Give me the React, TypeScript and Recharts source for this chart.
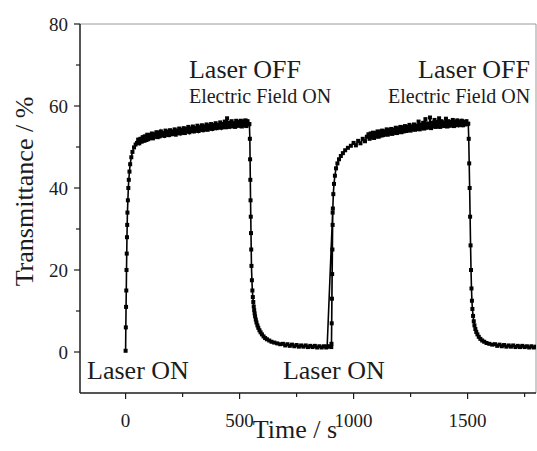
import React from 'react';
import { LineChart, Line, XAxis, YAxis, ReferenceLine, ReferenceDot, Label } from 'recharts';

// laser ON, first cycle (rise + plateau)
const onTime1 = [0, 1, 2, 3, 4, 5, 6, 7, 8, 10, 12, 14, 17, 20, 25, 30, 37, 44,
  50, 55, 60, 65, 70, 75, 80, 85, 90,
  95, 100, 105, 110, 115, 120, 125, 130, 135, 140,
  145, 150, 155, 160, 165, 170, 175, 180, 185, 190,
  195, 200, 205, 210, 215, 220, 225, 230, 235, 240,
  245, 250, 255, 260, 265, 270, 275, 280, 285, 290,
  295, 300, 305, 310, 315, 320, 325, 330, 335, 340,
  345, 350, 355, 360, 365, 370, 375, 380, 385, 390,
  395, 400, 405, 410, 415, 420, 425, 430, 435, 440,
  445, 450, 455, 460, 465, 470, 475, 480, 485, 490,
  495, 500, 505, 510, 515, 520, 525, 530, 535, 540, 543];
const onValue1 = [0.3, 6, 11, 15, 20, 24, 28, 31, 34, 37, 40, 42, 44, 45.8, 47.5, 48.8, 49.9, 50.6,
  51.0, 51.8, 50.9, 52.0, 51.3, 52.4, 51.5, 52.6, 51.7,
  53.0, 51.9, 52.9, 52.2, 53.3, 52.1, 53.1, 52.5, 53.6, 52.4,
  53.5, 52.6, 53.8, 52.9, 53.4, 52.7, 54.0, 53.0, 53.7, 52.9,
  54.1, 53.1, 53.8, 53.2, 54.3, 53.0, 54.0, 53.4, 54.5, 53.3,
  54.2, 53.5, 54.6, 53.4, 54.4, 53.8, 54.9, 53.6, 54.5, 53.9,
  55.0, 53.8, 54.6, 54.0, 55.2, 53.9, 54.8, 54.2, 55.3, 54.1,
  55.0, 54.3, 55.5, 54.2, 55.2, 54.5, 55.6, 54.4, 55.3, 54.6,
  55.8, 54.6, 55.4, 54.8, 56.0, 54.7, 55.6, 54.9, 56.2, 54.8,
  57.0, 54.9, 55.9, 55.0, 56.3, 55.1, 55.8, 54.9, 56.4, 55.2,
  56.1, 55.2, 56.4, 55.0, 56.2, 55.3, 56.5, 55.1, 56.3, 55.5, 55.6];

// laser OFF / electric field ON, first cycle
const offTime1 = [545, 546, 547, 548, 549, 550, 551, 552,
  554, 556, 558, 560, 562, 564, 566, 568, 571, 574, 578, 582, 587, 592, 598,
  605, 612, 620, 630, 640, 652, 665, 678,
  690, 700, 710, 720, 730, 740, 750, 760, 770, 780, 790,
  800, 810, 820, 830, 840, 850, 860, 870, 880, 890, 902];
const offValue1 = [52, 47, 42, 37, 33, 29, 25, 21,
  17.5, 15, 13.4, 12.2, 11.1, 10.2, 9.4, 8.7, 7.9, 7.2, 6.5, 5.9, 5.3, 4.8, 4.3,
  3.8, 3.4, 3.1, 2.8, 2.5, 2.3, 2.1, 1.9,
  2.0, 1.6, 1.9, 1.5, 1.8, 1.4, 1.7, 1.3, 1.6, 1.3, 1.6,
  1.2, 1.5, 1.2, 1.5, 1.1, 1.4, 1.1, 1.4, 1.1, 1.4, 1.2];

// laser ON, second cycle
const onTime2 = [884, 908, 903, 904, 905, 906, 907, 908, 909, 911, 914, 918, 923, 929, 936, 944,
  953, 963, 975, 988, 1000, 1010, 1020, 1030, 1040, 1050, 1058,
  1065, 1070, 1075, 1080, 1085, 1090, 1095, 1100, 1105, 1110,
  1115, 1120, 1125, 1130, 1135, 1140, 1145, 1150, 1155, 1160,
  1165, 1170, 1175, 1180, 1185, 1190, 1195, 1200, 1205, 1210,
  1215, 1220, 1225, 1230, 1235, 1240, 1245, 1250, 1255, 1260,
  1265, 1270, 1275, 1280, 1285, 1290, 1295, 1300, 1305, 1310,
  1315, 1320, 1325, 1330, 1335, 1340, 1345, 1350, 1355, 1360,
  1365, 1370, 1375, 1380, 1385, 1390, 1395, 1400, 1405, 1410,
  1415, 1420, 1425, 1430, 1435, 1440, 1445, 1450, 1455, 1460,
  1465, 1470, 1475, 1480, 1485, 1490, 1495, 1500, 1503];
const onValue2 = [1.3, 34, 2, 7, 13, 19, 25, 31, 35, 38.5, 41, 43, 44.8, 46, 47, 47.8,
  48.5, 49.2, 49.8, 50.3, 51.0, 50.4, 51.5, 50.9, 52.0, 51.4, 52.5,
  53.1, 52.0, 53.3, 52.3, 53.5, 52.2, 53.4, 52.6, 53.8, 52.5,
  53.7, 52.8, 54.0, 52.9, 53.8, 53.1, 54.3, 53.0, 54.1, 53.3,
  54.4, 53.2, 54.2, 53.5, 54.7, 53.4, 54.5, 53.7, 54.9, 53.6,
  54.8, 53.8, 55.1, 53.9, 54.9, 54.1, 55.4, 54.0, 55.0, 54.3,
  55.5, 54.2, 55.2, 54.4, 56.2, 54.3, 55.4, 54.6, 55.9, 54.5,
  56.8, 54.7, 55.7, 54.8, 57.2, 54.6, 55.9, 55.0, 56.6, 54.9,
  56.1, 55.0, 57.0, 54.9, 56.3, 55.2, 56.0, 55.1, 56.9, 55.0,
  56.3, 55.2, 56.1, 55.3, 56.6, 55.1, 56.2, 55.4, 56.5, 55.3,
  56.2, 55.4, 56.4, 55.3, 56.1, 55.5, 56.3, 55.6, 55.7];

// laser OFF / electric field ON, second cycle
const offTime2 = [1505, 1507, 1509, 1511, 1513, 1515, 1517, 1519, 1521, 1524, 1527, 1530,
  1534, 1538, 1543, 1549, 1556, 1564, 1573, 1583, 1595, 1608,
  1620, 1630, 1640, 1650, 1660, 1670, 1680, 1690, 1700, 1710,
  1720, 1730, 1740, 1750, 1760, 1770, 1780, 1790, 1800];
const offValue2 = [52, 46, 40, 33, 26, 20, 15.5, 12.5, 10.5, 8.8, 7.5, 6.5,
  5.6, 4.9, 4.3, 3.7, 3.2, 2.8, 2.5, 2.2, 2.0, 1.8,
  1.9, 1.5, 1.8, 1.4, 1.7, 1.3, 1.6, 1.3, 1.6, 1.2,
  1.5, 1.2, 1.5, 1.2, 1.4, 1.1, 1.4, 1.1, 1.3];

const xMajorTicks = [0, 500, 1000, 1500];
const xMinorTicks = [250, 750, 1250, 1750];
const yMajorTicks = [0, 20, 40, 60, 80];
const yMinorTicks = [10, 30, 50, 70];

const notes = [
  { time: 278, value: 66.8, text: 'Laser OFF', size: 26 },
  { time: 278, value: 60.7, text: 'Electric Field ON', size: 20 },
  { time: 1283, value: 66.8, text: 'Laser OFF', size: 26 },
  { time: 1151, value: 60.7, text: 'Electric Field ON', size: 20 },
  { time: -169, value: -6.6, text: 'Laser ON', size: 26 },
  { time: 690, value: -6.6, text: 'Laser ON', size: 26 },
];

const FONT = "'Liberation Serif', 'Times New Roman', Times, serif";
const INK = '#1c1c1c';

const zip = (t: number[], v: number[]) => t.map((time, i) => ({ time, value: v[i] }));
const data = [
  ...zip(onTime1, onValue1),
  ...zip(offTime1, offValue1),
  ...zip(onTime2, onValue2),
  ...zip(offTime2, offValue2),
];

const XTick = (props: any) => {
  const { x, y, payload } = props;
  const major = xMajorTicks.includes(payload.value);
  return (
    <g>
      <line x1={x} y1={y} x2={x} y2={y + (major ? 6 : 4)} stroke={INK} strokeWidth={1.2} />
      {major && (
        <text x={x} y={y + 34} textAnchor="middle" fontSize={19} fontFamily={FONT} fill={INK}>
          {payload.value}
        </text>
      )}
    </g>
  );
};

const YTick = (props: any) => {
  const { x, y, payload } = props;
  const major = yMajorTicks.includes(payload.value);
  return (
    <g>
      <line x1={x - (major ? 6 : 4)} y1={y} x2={x} y2={y} stroke={INK} strokeWidth={1.2} />
      {major && (
        <text x={x - 12} y={y + 6.5} textAnchor="end" fontSize={19} fontFamily={FONT} fill={INK}>
          {payload.value}
        </text>
      )}
    </g>
  );
};

const SquareDot = (props: any) => {
  const { cx, cy, index } = props;
  if (cx == null || cy == null) return <g key={`d${index}`} />;
  return <rect key={`d${index}`} x={cx - 2} y={cy - 2} width={4} height={4} fill="#000" />;
};

export default function App() {
  return (
    <div style={{ position: 'absolute', left: 0, top: 0, background: '#fff' }}>
      <LineChart width={537} height={451} data={data} margin={{ top: 24, right: 1, bottom: 0, left: 0 }}>
        <XAxis
          dataKey="time"
          type="number"
          domain={[-200, 1800]}
          ticks={[...xMajorTicks, ...xMinorTicks].sort((a, b) => a - b)}
          interval={0}
          height={58}
          tickSize={0}
          tickMargin={0}
          tickLine={false}
          tick={<XTick />}
          axisLine={{ stroke: INK, strokeWidth: 1.5 }}
          allowDataOverflow
        >
          <Label
            content={(p: any) => (
              <text
                x={p.viewBox.x + p.viewBox.width / 2 - 13}
                y={p.viewBox.y + 45}
                textAnchor="middle"
                fontSize={26}
                fontFamily={FONT}
                fill={INK}
              >
                Time / s
              </text>
            )}
          />
        </XAxis>
        <YAxis
          type="number"
          domain={[-10, 80]}
          ticks={[...yMajorTicks, ...yMinorTicks].sort((a, b) => a - b)}
          interval={0}
          width={80}
          tickSize={0}
          tickMargin={0}
          tickLine={false}
          tick={<YTick />}
          axisLine={{ stroke: INK, strokeWidth: 1.5 }}
          allowDataOverflow
        >
          <Label
            content={(p: any) => {
              const cx = p.viewBox.x + 33;
              const cy = p.viewBox.y + p.viewBox.height / 2 - 17;
              return (
                <text
                  x={cx}
                  y={cy}
                  transform={`rotate(-90, ${cx}, ${cy})`}
                  textAnchor="middle"
                  fontSize={26}
                  fontFamily={FONT}
                  fill={INK}
                >
                  Transmittance / %
                </text>
              );
            }}
          />
        </YAxis>
        <ReferenceLine y={80} stroke="#9a9a9a" strokeWidth={1} />
        <ReferenceLine x={1800} stroke="#9a9a9a" strokeWidth={1} />
        {notes.map((n, i) => (
          <ReferenceDot
            key={`n${i}`}
            x={n.time}
            y={n.value}
            r={0}
            shape={(p: any) => (
              <text x={p.cx} y={p.cy} fontSize={n.size} fontFamily={FONT} fill={INK}>
                {n.text}
              </text>
            )}
          />
        ))}
        <Line
          dataKey="value"
          stroke="#000"
          strokeWidth={1.6}
          dot={SquareDot}
          activeDot={false}
          isAnimationActive={false}
        />
      </LineChart>
    </div>
  );
}
